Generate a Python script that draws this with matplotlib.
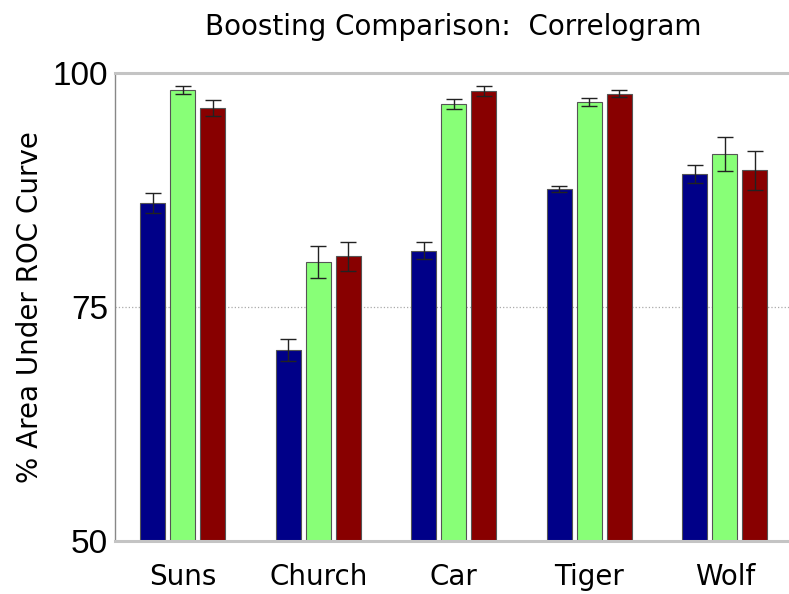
import numpy as np
import matplotlib.pyplot as plt

categories = ['Suns', 'Church', 'Car', 'Tiger', 'Wolf']

# mean % area under ROC curve and error for the three boosting variants
navy_vals = [86.1, 70.4, 81.0, 87.6, 89.2]
navy_err = [1.1, 1.2, 0.9, 0.3, 1.0]
green_vals = [98.2, 79.8, 96.7, 96.9, 91.35]
green_err = [0.4, 1.75, 0.55, 0.45, 1.85]
red_vals = [96.3, 80.4, 98.1, 97.8, 89.6]
red_err = [0.85, 1.6, 0.5, 0.35, 2.05]

colors = ['#000088', '#88ff77', '#880000']

fig = plt.figure(figsize=(7.89, 5.94), dpi=100)
ax = fig.add_axes([0.1458, 0.0892, 0.8586, 0.7878])

x = np.arange(len(categories))
w = 0.184
step = 0.221
series = [(navy_vals, navy_err), (green_vals, green_err), (red_vals, red_err)]
for i, (vals, err) in enumerate(series):
    ax.bar(x + (i - 1) * step, np.array(vals) - 50, w, bottom=50,
           color=colors[i], edgecolor='#555555', linewidth=0.8, zorder=2)
    ax.errorbar(x + (i - 1) * step, vals, yerr=err, fmt='none',
                ecolor='#222222', elinewidth=1.0, capsize=6, capthick=1.0, zorder=3)

ax.axhline(75, color='#aaaaaa', linestyle=':', linewidth=0.9, zorder=1)

ax.set_xlim(-0.5, 4.5)
ax.set_ylim(50, 100)
ax.set_yticks([50, 75, 100])
ax.set_yticklabels(['50', '75', '100'], fontsize=24, family='Liberation Sans')
ax.set_xticks(x)
ax.set_xticklabels(categories, fontsize=20, family='DejaVu Sans')
ax.tick_params(axis='x', length=0, pad=16)
ax.tick_params(axis='y', length=0, pad=5)

ax.spines['right'].set_visible(False)
ax.spines['top'].set_color('#c4c4c4')
ax.spines['top'].set_linewidth(2.2)
ax.spines['bottom'].set_color('#c4c4c4')
ax.spines['bottom'].set_linewidth(2.2)
ax.spines['left'].set_color('#888888')
ax.spines['left'].set_linewidth(1.0)

ax.set_ylabel('% Area Under ROC Curve', fontsize=20, labelpad=6)
fig.text(0.575, 0.955, 'Boosting Comparison:  Correlogram', ha='center', va='center',
         fontsize=20)

fig.savefig('out.png', dpi=100)
